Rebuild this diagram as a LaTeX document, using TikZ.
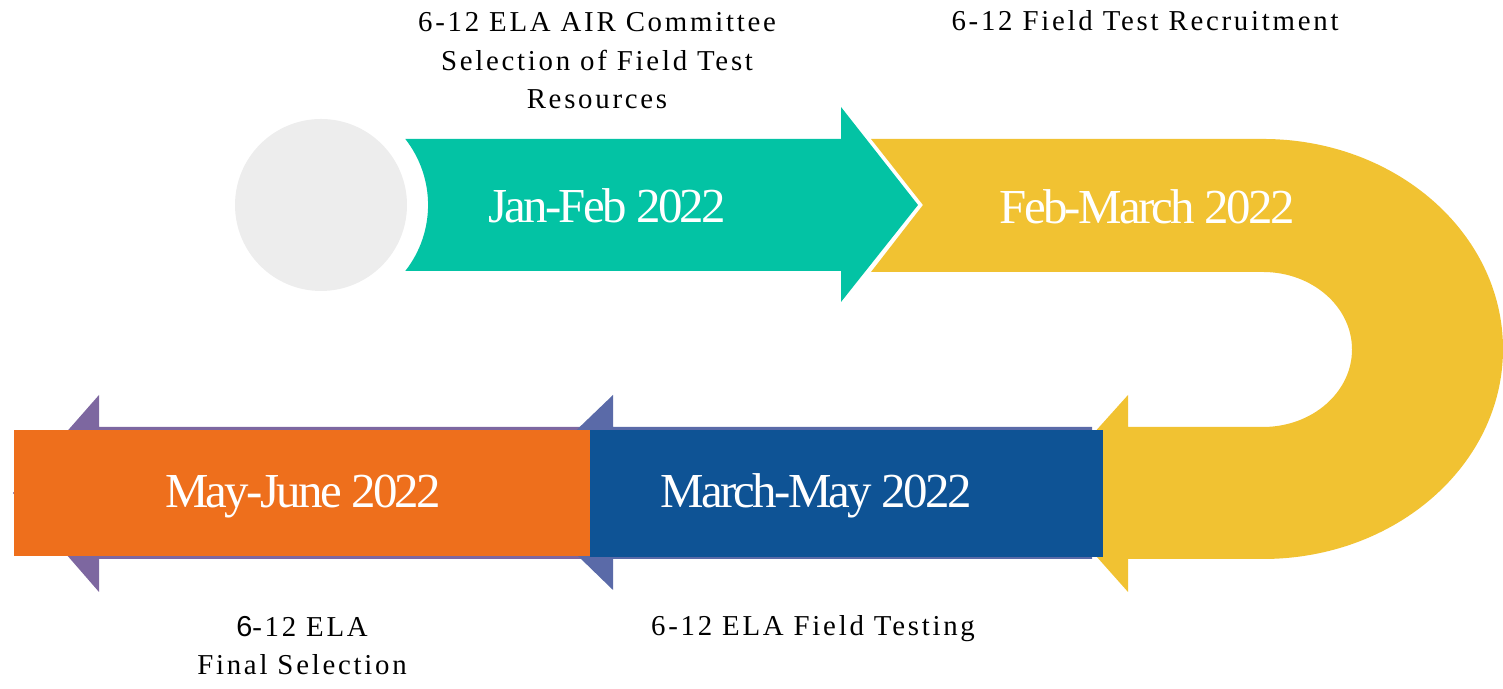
\documentclass[tikz,border=0pt]{standalone}
\usepackage{fontspec}
\setmainfont{Liberation Serif}
\newfontfamily\datefont[LetterSpace=-5.5]{Liberation Serif}
\newfontfamily\notefont[LetterSpace=9.5]{Liberation Serif}
\newfontfamily\notesans[LetterSpace=9.5]{Liberation Sans}
\usepackage{xcolor}
\definecolor{ringgray}{HTML}{EDEDED}
\definecolor{stepteal}{HTML}{03C3A4}
\definecolor{stepgold}{HTML}{F1C232}
\definecolor{stepnavy}{HTML}{0E5395}
\definecolor{stepslate}{HTML}{5A6AA8}
\definecolor{stepplum}{HTML}{7D67A0}
\definecolor{steporange}{HTML}{EE6F1C}
\usetikzlibrary{calc}

\begin{document}
\begin{tikzpicture}[x=0.01cm, y=0.01cm,
  datelabel/.style={anchor=base, inner sep=0pt, text=white,
    font=\fontsize{13.9}{16}\datefont},
  notelabel/.style={anchor=base, inner sep=0pt, align=center,
    font=\fontsize{8.2}{10.95}\notefont}]
  \useasboundingbox (0,0) rectangle (1503,689);

  %% Start circle
  \fill[ringgray] (321,484) circle[radius=86];

  %% Gold U-turn arrow
  \fill[stepgold] (871,550) -- (1263,550)
    arc[start angle=90, end angle=-90, x radius=240, y radius=210]
    -- (1128,130) -- (1128,97) -- (1040,196) -- (1128,294) -- (1128,262)
    -- (1263,262)
    arc[start angle=-90, end angle=90, x radius=89, y radius=77.5]
    -- (871,417) -- (923,484) -- cycle;

  %% Teal arrow, hollowed round the circle
  \fill[stepteal] (405.3,418) -- (841,418) -- (841,387) -- (918,484)
    -- (841,582) -- (841,550) -- (405.3,550)
    arc[start angle=38.08, end angle=-38.08, radius=107] -- cycle;

  %% Arrows behind the bottom boxes
  \fill[stepplum]  (590,262) -- (99,262) -- (99,294) -- (13,196)
    -- (99,97) -- (99,130) -- (590,130) -- cycle;
  \fill[stepslate] (1092,262) -- (613,262) -- (613,294) -- (512,197)
    -- (613,99) -- (613,130) -- (1092,130) -- cycle;

  %% Bottom boxes
  \fill[steporange] (14,133) rectangle (590,259);
  \fill[stepnavy]   (590,132) rectangle (1103,259);

  %% Dates
  \node[datelabel] (janfeb) at (607,466) {Jan-Feb 2022};
  \node[datelabel] (febmar) at (1147,465) {Feb-March 2022};
  \node[datelabel] (marmay) at (816,181) {March-May 2022};
  \node[datelabel] (mayjun) at (303,181) {May-June 2022};

  %% Step notes (base = last line)
  \node[notelabel] (committee) at (597,580)
    {6-12 ELA AIR Committee\\Selection of Field Test\\Resources};
  \node[notelabel] (recruit) at (1145,658) {6-12 Field Test Recruitment};
  \node[notelabel] (testing) at (813,53) {6-12 ELA Field Testing};
  \node[notelabel] (final) at (302,14) {{\notesans 6}-12 ELA\\Final Selection};
\end{tikzpicture}
\end{document}
